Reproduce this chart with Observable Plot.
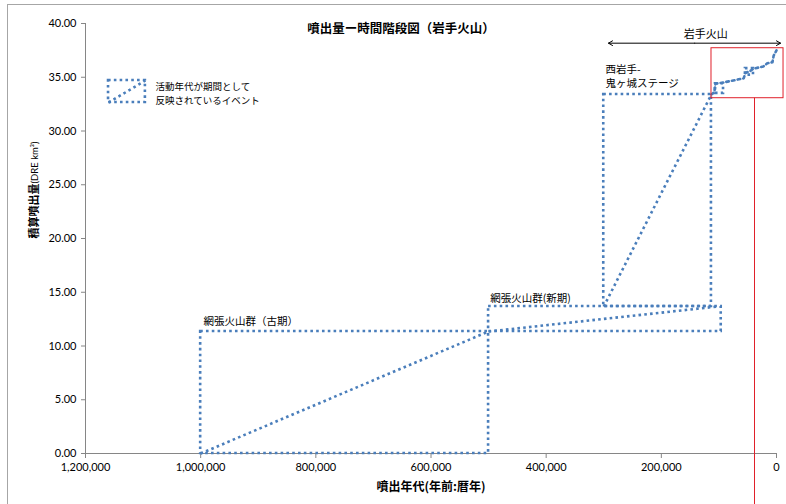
<!DOCTYPE html>
<html><head><meta charset="utf-8">
<script src="https://cdn.jsdelivr.net/npm/d3@7"></script>
<script src="https://cdn.jsdelivr.net/npm/@observablehq/plot@0.6"></script>
<style>body{margin:0;background:#fff}#chart{position:relative;width:786px;height:504px;overflow:hidden}</style>
</head><body><div id="chart"></div>
<script>
// ---- data ----
const xTicks = [1200000, 1000000, 800000, 600000, 400000, 200000, 0];
const yTicks = [0, 5, 10, 15, 20, 25, 30, 35, 40];

// stages whose activity is reflected as a period (dotted boxes)
const stageName = ["網張火山群（古期）", "網張火山群(新期)", "西岩手-\n鬼ヶ城ステージ"];
const stageStart = [1000000, 500000, 300000];
const stageEnd = [500000, 96000, 113000];
const stageBottom = [0, 11.35, 13.67];
const stageTop = [11.35, 13.67, 33.4];
const diagEnd = [500000, 103000, 113000];
const labelX = [995000, 497000, 297000];
const labelY = [12.35, 14.55, 35.16];

// Iwate volcano cumulative curve
const iwateAge = [113000, 108000, 106000, 94000, 75000, 57000, 54000, 45000, 40000, 23000, 16000, 7000, 5000, 2000, 0];
const iwateVol = [33.4, 33.6, 34.4, 34.5, 34.7, 34.9, 35.4, 35.6, 35.8, 36.0, 36.3, 36.4, 37.0, 37.3, 37.5];
const subStart = [106000, 54000];
const subEnd = [92000, 40000];
const subBottom = [33.5, 35.2];
const subTop = [34.4, 35.8];

// annotations
const iwateLabel = "岩手火山";
const iwateSpan = [291800, -7000];
const iwateSpanMid = 142000;
const iwateSpanY = 38.17;
const iwateLabelPos = [123000, 38.98];
const redBox = {x1: 112900, x2: -12200, y1: 33.05, y2: 37.7};
const redLineX = 38200;
const redLineY = [33.05, -5];
const legendBox = {x1: 1160000, x2: 1096000, y1: 32.65, y2: 34.7};
const legendText = "活動年代が期間として\n反映されているイベント";
const legendTextPos = [1078500, 33.58];

const title = "噴出量ー時間階段図（岩手火山）";
const xTitle = "噴出年代(年前:暦年)";
const yTitleMain = "積算噴出量";
const yTitleUnit = "(DRE km³)";

// ---- chart ----
const blue = "#4a7ebb";
const dotted = {stroke: blue, strokeWidth: 2.6, strokeDasharray: "2.6,3.2"};
const cjk = "'Noto Sans CJK JP', sans-serif";
const idx3 = stageStart.map((d, i) => i);
const idx2 = subStart.map((d, i) => i);

const plot = Plot.plot({
  width: 786, height: 504,
  marginLeft: 85, marginRight: 10, marginTop: 23, marginBottom: 51,
  style: {fontFamily: "Lato, 'Noto Sans CJK JP', sans-serif", fontSize: "11px", color: "#000", background: "#fff"},
  x: {domain: [1200000, 0]},
  y: {domain: [0, 40]},
  marks: [
    Plot.axisX({ticks: xTicks, tickFormat: d3.format(","), tickSize: 5, tickPadding: 5, stroke: "#868686", fill: "#000", label: null, fontSize: 11}),
    Plot.axisY({ticks: yTicks, tickFormat: d3.format(".2f"), tickSize: 4, tickPadding: 5, stroke: "#868686", fill: "#000", label: null, fontSize: 11}),
    Plot.ruleY([0], {stroke: "#868686"}),
    Plot.ruleX([1200000], {stroke: "#868686"}),
    Plot.rect(idx3, {x1: stageStart, x2: stageEnd, y1: stageBottom, y2: stageTop, fill: "none", ...dotted}),
    Plot.link(idx3, {x1: stageStart, y1: stageBottom, x2: diagEnd, y2: stageTop, ...dotted}),
    Plot.rect(idx2, {x1: subStart, x2: subEnd, y1: subBottom, y2: subTop, fill: "none", ...dotted}),
    Plot.line(iwateAge.map((a, i) => ({a, v: iwateVol[i]})), {x: "a", y: "v", ...dotted}),
    Plot.text(stageName, {text: d => d, x: labelX, y: labelY, textAnchor: "start", lineAnchor: "middle", fontSize: 10.5, lineHeight: 1.33, fontFamily: cjk, fill: "#000"}),
    // Iwate annotation
    Plot.rect([redBox], {x1: "x1", x2: "x2", y1: "y1", y2: "y2", fill: "none", stroke: "#e0202a", strokeWidth: 1}),
    Plot.ruleX([redLineX], {y1: redLineY[0], y2: redLineY[1], stroke: "#e0202a", strokeWidth: 1}),
    Plot.arrow(iwateSpan, {x1: iwateSpanMid, x2: d => d, y1: iwateSpanY, y2: iwateSpanY, stroke: "#000", strokeWidth: 1, headLength: 7, bend: 0}),
    Plot.text([iwateLabel], {text: d => d, x: iwateLabelPos[0], y: iwateLabelPos[1], fontSize: 11, fontFamily: cjk, fill: "#000"}),
    // legend
    Plot.rect([legendBox], {x1: "x1", x2: "x2", y1: "y1", y2: "y2", fill: "none", ...dotted}),
    Plot.link([legendBox], {x1: "x1", y1: "y1", x2: "x2", y2: "y2", ...dotted}),
    Plot.text([legendText], {text: d => d, x: legendTextPos[0], y: legendTextPos[1], textAnchor: "start", lineAnchor: "middle", fontSize: 9.5, lineHeight: 1.47, fontFamily: cjk, fill: "#000"}),
    // titles
    Plot.text([title], {text: d => d, frameAnchor: "top", dx: -30, dy: 1, fontSize: 12.5, fontWeight: "bold", fontFamily: cjk, fill: "#000"}),
    Plot.text([xTitle], {text: d => d, frameAnchor: "bottom", dy: 37, fontSize: 12, fontWeight: "bold", fontFamily: cjk, fill: "#000"}),
    Plot.text([yTitleMain + yTitleUnit], {text: d => d, frameAnchor: "left", dx: -51, rotate: -90, fontSize: 11, fontWeight: "bold", fontFamily: cjk, fill: "#000"})
  ]
});
document.getElementById("chart").appendChild(plot);
// split y title into bold CJK part and smaller regular unit part
d3.select(plot).selectAll("text").filter(function() { return this.textContent === yTitleMain + yTitleUnit; })
  .each(function() {
    const t = d3.select(this);
    t.text(null);
    t.append("tspan").attr("font-weight", "bold").attr("font-size", 11).text(yTitleMain);
    t.append("tspan").attr("font-weight", "normal").attr("font-size", 9.5).attr("font-family", "Lato, sans-serif").text(yTitleUnit);
  });
d3.select(plot).append("rect").attr("x", 7.5).attr("y", 4.5).attr("width", 820).attr("height", 540)
  .attr("fill", "none").attr("stroke", "#a6a6a6");
</script>
</body></html>
